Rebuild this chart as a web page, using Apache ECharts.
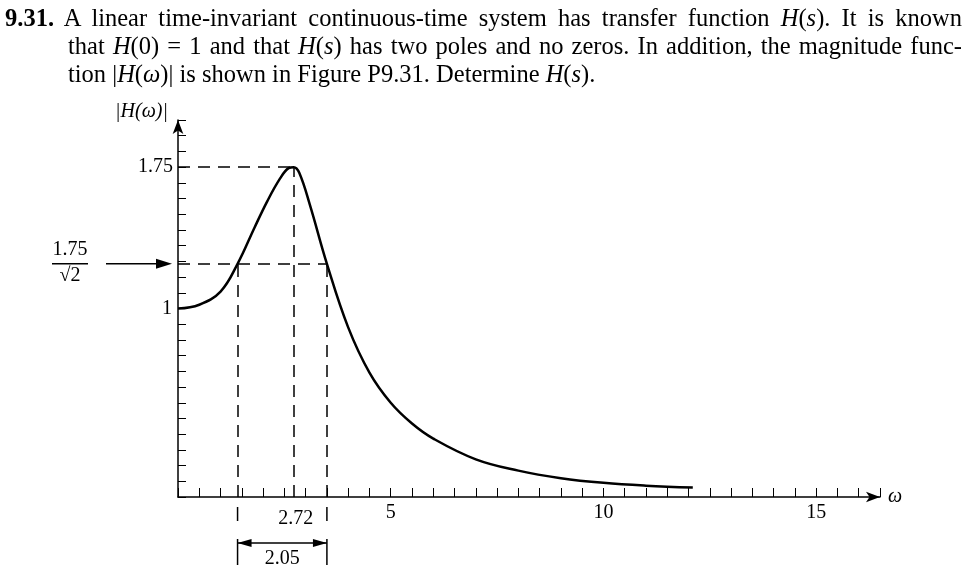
<!DOCTYPE html>
<html>
<head>
<meta charset="utf-8">
<script src="https://cdn.jsdelivr.net/npm/echarts@6/dist/echarts.min.js"></script>
<style>
  body { margin: 0; background: #fff; }
  #text { position: absolute; left: 0; top: 4px; width: 962px; font-family: "Liberation Serif", serif; font-size: 24.5px; line-height: 28px; color: #000; }
  #text div { padding-left: 68px; text-align: justify; text-align-last: justify; white-space: nowrap; }
  #text div.first { padding-left: 5px; }
  #text div.last { text-align-last: left; }
  #chart { width: 968px; height: 580px; }
</style>
</head>
<body>
<div id="chart"></div>
<div id="text">
  <div class="first"><b>9.31.</b> A linear time-invariant continuous-time system has transfer function <i>H</i>(<i>s</i>). It is known</div>
  <div>that <i>H</i>(0) = 1 and that <i>H</i>(<i>s</i>) has two poles and no zeros. In addition, the magnitude func-</div>
  <div class="last">tion |<i>H</i>(<i>ω</i>)| is shown in Figure P9.31. Determine <i>H</i>(<i>s</i>).</div>
</div>
<script>
// values
const omega = [0, 0.5, 1.0, 1.4, 1.8, 2.1, 2.4, 2.6, 2.72, 2.85, 3.1, 3.5, 4.0, 4.5, 5.0, 5.5, 6.0, 7.0, 8.0, 9.0, 10.0, 11.0, 12.1];
const mag = [1.0, 1.02, 1.09, 1.237, 1.43, 1.57, 1.69, 1.745, 1.75, 1.72, 1.55, 1.237, 0.9, 0.66, 0.5, 0.39, 0.31, 0.2, 0.14, 0.1, 0.075, 0.06, 0.05];
const peakW = 2.72, peakH = 1.75, halfH = 1.237;
const wLow = 1.4, wHigh = 3.5;

const F = '"Liberation Serif", serif';
const chart = echarts.init(document.getElementById('chart'));
const dash = { color: '#000', type: [12, 8], width: 1.5 };
chart.setOption({
  animation: false,
  grid: { left: 178, right: 88, top: 120, bottom: 83 },
  xAxis: {
    type: 'value', min: 0, max: 16.5, interval: 5,
    axisLine: { lineStyle: { color: '#000', width: 1.5 }, symbol: ['none', 'arrow'], symbolSize: [8, 14] },
    axisTick: { inside: true, length: 9, lineStyle: { color: '#000' } },
    minorTick: { show: true, splitNumber: 10, length: 9, lineStyle: { color: '#000' } },
    axisLabel: { fontFamily: F, fontSize: 20, color: '#000', margin: 6, showMaxLabel: false,
      formatter: v => (v === 0 || v > 15 ? '' : v) },
    splitLine: { show: false }
  },
  yAxis: {
    type: 'value', min: 0, max: 2.0, interval: 0.25,
    axisLine: { lineStyle: { color: '#000', width: 1.5 }, symbol: ['none', 'arrow'], symbolSize: [8, 14] },
    axisTick: { inside: true, length: 8, lineStyle: { color: '#000' } },
    minorTick: { show: true, splitNumber: 3, length: 8, lineStyle: { color: '#000' } },
    axisLabel: { fontFamily: F, fontSize: 20, color: '#000', margin: 6,
      formatter: v => (v === 1 ? '1' : '') },
    splitLine: { show: false }
  },
  series: [{
    type: 'line', smooth: 0.4, symbol: 'none',
    data: omega.map((w, i) => [w, mag[i]]),
    lineStyle: { color: '#000', width: 2.5 },
    markLine: {
      silent: true, symbol: 'none', lineStyle: dash, label: { show: false },
      data: [
        [{ coord: [0, peakH] }, { coord: [peakW, peakH] }],
        [{ coord: [peakW, 0] }, { coord: [peakW, peakH] }],
        [{ coord: [0, halfH] }, { coord: [wHigh, halfH] }],
        [{ coord: [wLow, 0] }, { coord: [wLow, halfH] }],
        [{ coord: [wHigh, 0] }, { coord: [wHigh, halfH] }]
      ]
    }
  }]
});

// annotations placed from axis coordinates
const p = (x, y) => chart.convertToPixel({ gridIndex: 0 }, [x, y]);
const [x0, y0] = p(0, 0), [xl] = p(wLow, 0), [xh] = p(wHigh, 0), [xp] = p(peakW, 0);
const [, yPk] = p(0, peakH), [, yHalf] = p(0, halfH), [xEnd] = p(16.5, 0), [, yTop] = p(0, 2.0);
const txt = (x, y, s, extra) => ({ type: 'text', x, y, style: Object.assign({ text: s, font: '20px ' + F, fill: '#000' }, extra) });
const seg = (a, b, c, d) => ({ type: 'line', shape: { x1: a, y1: b, x2: c, y2: d }, style: { stroke: '#000', lineWidth: 1.5 } });
chart.setOption({
  graphic: [
    txt(x0 - 5, yPk, '1.75', { align: 'right', verticalAlign: 'middle' }),
    txt(x0 - 10, yTop - 8, '|H(ω)|', { align: 'right', verticalAlign: 'middle', font: 'italic 20px ' + F }),
    txt(xEnd + 8, y0, 'ω', { verticalAlign: 'middle', font: 'italic 20px ' + F }),
    txt(xp + 2, y0 + 12, '2.72', { align: 'center' }),
    seg(xl, y0 + 10, xl, y0 + 24), seg(xh, y0 + 10, xh, y0 + 24),
    seg(xl, y0 + 42, xl, y0 + 68), seg(xh, y0 + 42, xh, y0 + 68),
    seg(xl, y0 + 46, xh, y0 + 46),
    { type: 'polygon', shape: { points: [[xl, y0 + 46], [xl + 14, y0 + 42], [xl + 14, y0 + 50]] }, style: { fill: '#000' } },
    { type: 'polygon', shape: { points: [[xh, y0 + 46], [xh - 14, y0 + 42], [xh - 14, y0 + 50]] }, style: { fill: '#000' } },
    txt((xl + xh) / 2, y0 + 52, '2.05', { align: 'center' }),
    txt(70, yHalf - 4, '1.75', { align: 'center', verticalAlign: 'bottom' }),
    seg(52, yHalf, 88, yHalf),
    txt(70, yHalf + 2, '√2', { align: 'center', verticalAlign: 'top' }),
    seg(106, yHalf, 160, yHalf),
    { type: 'polygon', shape: { points: [[172, yHalf], [156, yHalf - 5], [156, yHalf + 5]] }, style: { fill: '#000' } }
  ]
});
</script>
</body>
</html>
